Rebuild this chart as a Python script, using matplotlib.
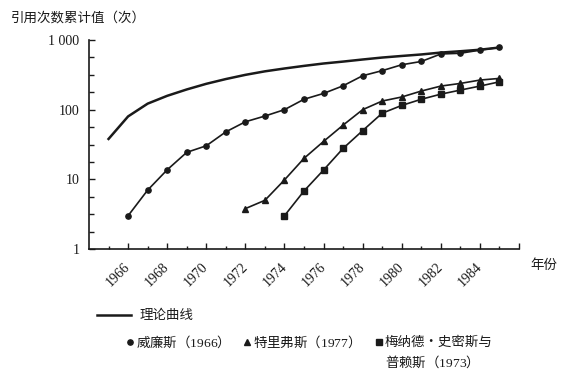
import matplotlib
matplotlib.use('Agg')
import matplotlib.pyplot as plt
from matplotlib.ticker import FixedLocator, FixedFormatter, NullFormatter
from matplotlib.lines import Line2D
import matplotlib.transforms as mtransforms

SERIF = ['Liberation Serif', 'Noto Sans CJK SC']
CJK = ['Noto Sans CJK SC', 'Liberation Serif']
plt.rcParams['font.family'] = SERIF
plt.rcParams['mathtext.fontset'] = 'custom'
plt.rcParams['mathtext.rm'] = 'Liberation Serif'
plt.rcParams['mathtext.it'] = 'Liberation Serif'

theory_years = list(range(1965, 1986))
theory_vals = [38, 80, 122, 158, 195, 235, 275, 316, 355, 390, 425, 460,
               490, 525, 560, 590, 620, 660, 690, 725, 780]

williams_years = list(range(1966, 1986))
williams_vals = [3, 7, 13.7, 24.4, 30.3, 48, 67, 81, 100, 141, 171, 220,
                 307, 363, 441, 492, 630, 645, 716, 783]

street_years = list(range(1972, 1986))
street_vals = [3.8, 5.0, 9.8, 20, 35, 60, 100, 133, 152, 185, 218, 238, 266, 281]

menard_years = list(range(1974, 1986))
menard_vals = [3, 6.8, 13.6, 27.8, 50, 89, 115, 141, 167, 191, 218, 251]

xtick_major = list(range(1966, 1987, 2))
xtick_labels = [str(y) if y <= 1984 else '' for y in xtick_major]
xtick_minor = list(range(1965, 1987, 2))
ytick_major = [1, 10, 100, 1000]
ytick_labels = ['1', '10', '100', '1 000']

legend_theory = '理论曲线'
legend_williams = '威廉斯（$\\mathrm{1966}$）'
legend_street = '特里弗斯（$\\mathrm{1977}$）'
legend_menard_1 = '梅纳德·史密斯与'
legend_menard_2 = '普赖斯（$\\mathrm{1973}$）'
ylabel = '引用次数累计值（次）'
xlabel = '年份'

C = '#1a1a1a'
W, H = 566, 374
fig = plt.figure(figsize=(W / 100, H / 100), dpi=100)
ax = fig.add_axes([89 / W, 1 - 249 / H, 430 / W, 209 / H])

ax.plot(theory_years, theory_vals, color=C, lw=1.8, solid_joinstyle='round')
ax.plot(williams_years, williams_vals, color=C, lw=1.2, marker='o', ms=3.8)
ax.plot(street_years, street_vals, color=C, lw=1.2, marker='^', ms=4.2)
ax.plot(menard_years, menard_vals, color=C, lw=1.2, marker='s', ms=4.0)

ax.set_yscale('log')
ax.set_ylim(1, 1000)
ax.set_xlim(1964, 1986)
for s in ['top', 'right']:
    ax.spines[s].set_visible(False)
for s in ['left', 'bottom']:
    ax.spines[s].set_color(C)
    ax.spines[s].set_linewidth(1.2)

ax.xaxis.set_major_locator(FixedLocator(xtick_major))
ax.xaxis.set_major_formatter(FixedFormatter(xtick_labels))
ax.xaxis.set_minor_locator(FixedLocator(xtick_minor))
ax.yaxis.set_major_locator(FixedLocator(ytick_major))
ax.yaxis.set_major_formatter(FixedFormatter(ytick_labels))
yminor = [10 ** (d + j / 4) for d in range(3) for j in (1, 2, 3)]
ax.yaxis.set_minor_locator(FixedLocator(yminor))
ax.yaxis.set_minor_formatter(NullFormatter())

ax.tick_params(axis='x', which='major', direction='in', length=4, width=1, color=C,
               labelsize=10, labelcolor=C, pad=8)
ax.tick_params(axis='x', which='minor', direction='in', length=2.5, width=1, color=C)
ax.tick_params(axis='y', which='major', direction='in', length=4, width=1, color=C,
               labelsize=10, labelcolor=C, pad=7)
ax.tick_params(axis='y', which='minor', direction='in', length=3.5, width=1, color=C)

offset = mtransforms.ScaledTranslation(-7 / 72, 0, fig.dpi_scale_trans)
for lab in ax.get_xticklabels():
    lab.set_rotation(45)
    lab.set_ha('center')
    lab.set_va('top')
    lab.set_transform(lab.get_transform() + offset)

def fx(px):
    return px / W

def fy(py):
    return 1 - py / H

fs = 9.7
fig.text(fx(11), fy(17.5), ylabel, fontsize=fs, color=C, va='center', ha='left', family=CJK)
fig.text(fx(530), fy(265), xlabel, fontsize=fs, color=C, va='center', ha='left', family=CJK)

# legend
fig.add_artist(Line2D([fx(97), fx(131)], [fy(315), fy(315)], color=C, lw=1.8,
                      transform=fig.transFigure))
fig.text(fx(140), fy(315), legend_theory, fontsize=fs, color=C, va='center', ha='left', family=CJK)
row = 341.5
row2 = 362
fig.add_artist(Line2D([fx(130)], [fy(row)], color=C, marker='o', ms=3.8, ls='none',
                      transform=fig.transFigure))
fig.text(fx(136), fy(row), legend_williams, fontsize=fs, color=C, va='center', ha='left', family=CJK)
fig.add_artist(Line2D([fx(247)], [fy(row)], color=C, marker='^', ms=4.2, ls='none',
                      transform=fig.transFigure))
fig.text(fx(253), fy(row), legend_street, fontsize=fs, color=C, va='center', ha='left', family=CJK)
fig.add_artist(Line2D([fx(379)], [fy(row)], color=C, marker='s', ms=4.0, ls='none',
                      transform=fig.transFigure))
fig.text(fx(385), fy(row), legend_menard_1, fontsize=fs, color=C, va='center', ha='left', family=CJK)
fig.text(fx(385), fy(row2), legend_menard_2, fontsize=fs, color=C, va='center', ha='left', family=CJK)

fig.savefig('out.png', dpi=100, facecolor='white')
